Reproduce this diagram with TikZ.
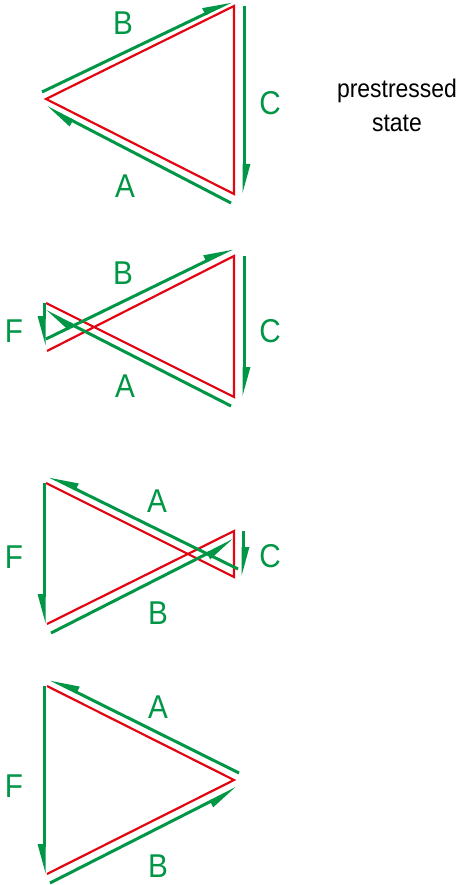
\documentclass[tikz,border=0pt]{standalone}
\usepackage{fontspec}
\setmainfont[FakeStretch=0.9]{Liberation Sans}
\usetikzlibrary{arrows.meta}
\definecolor{barred}{RGB}{226,6,19}
\definecolor{forcegreen}{RGB}{0,150,70}
\tikzset{
  member/.style={draw=barred,line width=2.2pt,line join=miter},
  force/.style={draw=forcegreen,line width=3pt},
  harpl/.style={force,-{Triangle[harpoon,length=24pt,width=12pt]}},
  harpr/.style={force,-{Triangle[harpoon,swap,length=24pt,width=12pt]}},
  lbl/.style={text=forcegreen,font=\fontsize{33}{33}\selectfont,inner sep=0pt},
  note/.style={text=black,font=\fontsize{25.5}{34}\selectfont,align=center,inner sep=0pt}
}
\begin{document}
\begin{tikzpicture}[x=1pt,y=-1pt]
\useasboundingbox (0,0) rectangle (463,885);
% ---------- diagram 1 ----------
\coordinate (r1a) at (46,99);
\coordinate (r1b) at (234,6);
\coordinate (r1c) at (234,194);
\draw[member] (r1a) -- (r1b) -- (r1c) -- cycle;
\coordinate (g1bs) at (42,92);
\coordinate (g1be) at (232,1);
\coordinate (g1as) at (231,203);
\coordinate (g1ae) at (46,107);
\coordinate (g1cs) at (244,6);
\coordinate (g1ce) at (244,194);
\draw[harpl] (g1bs) -- (g1be);
\draw[harpl] (g1as) -- (g1ae);
\draw[harpl] (g1cs) -- (g1ce);
\node[lbl] (l1b) at (123,23) {B};
\node[lbl] (l1a) at (125,186) {A};
\node[lbl] (l1c) at (270,103) {C};
\node[note] (pre) at (397,105) {prestressed\\state};
% ---------- diagram 2 ----------
\coordinate (r2a) at (46,303);
\coordinate (r2b) at (234,397);
\coordinate (r2c) at (234,256);
\coordinate (r2d) at (47,351);
\draw[member] (r2a) -- (r2b) -- (r2c) -- (r2d);
\coordinate (g2bs) at (46,339);
\coordinate (g2be) at (233,248);
\coordinate (g2as) at (231,406);
\coordinate (g2ae) at (45,311);
\coordinate (g2cs) at (244,256);
\coordinate (g2ce) at (244,397);
\coordinate (g2fs) at (44,303);
\coordinate (g2fe) at (44,346);
\draw[harpl] (g2bs) -- (g2be);
\draw[harpl] (g2as) -- (g2ae);
\draw[harpl] (g2cs) -- (g2ce);
\draw[harpr] (g2fs) -- (g2fe);
\node[lbl] (l2b) at (123,273) {B};
\node[lbl] (l2a) at (125,386) {A};
\node[lbl] (l2c) at (270,331) {C};
\node[lbl] (l2f) at (14,331) {F};
% ---------- diagram 3 ----------
\coordinate (r3a) at (46,483);
\coordinate (r3b) at (234,577);
\coordinate (r3c) at (234,531);
\coordinate (r3d) at (47,624);
\draw[member] (r3a) -- (r3b) -- (r3c) -- (r3d);
\coordinate (g3as) at (238,569);
\coordinate (g3ae) at (49,476);
\coordinate (g3bs) at (51,633);
\coordinate (g3be) at (234,540);
\coordinate (g3fs) at (44,483);
\coordinate (g3fe) at (44,624);
\coordinate (g3cs) at (243,531);
\coordinate (g3ce) at (243,577);
\draw[harpr] (g3as) -- (g3ae);
\draw[harpr] (g3bs) -- (g3be);
\draw[harpr] (g3fs) -- (g3fe);
\draw[harpl] (g3cs) -- (g3ce);
\node[lbl] (l3a) at (157,501) {A};
\node[lbl] (l3b) at (158,613) {B};
\node[lbl] (l3c) at (270,556) {C};
\node[lbl] (l3f) at (14,557) {F};
% ---------- diagram 4 ----------
\coordinate (r4a) at (47,686);
\coordinate (r4b) at (234,780);
\coordinate (r4c) at (47,874);
\draw[member] (r4a) -- (r4b) -- (r4c);
\coordinate (g4as) at (239,773);
\coordinate (g4ae) at (50,679);
\coordinate (g4bs) at (50,883);
\coordinate (g4be) at (237,788);
\coordinate (g4fs) at (44,686);
\coordinate (g4fe) at (44,874);
\draw[harpr] (g4as) -- (g4ae);
\draw[harpr] (g4bs) -- (g4be);
\draw[harpr] (g4fs) -- (g4fe);
\node[lbl] (l4a) at (158,707) {A};
\node[lbl] (l4b) at (158,866) {B};
\node[lbl] (l4f) at (14,786) {F};
\end{tikzpicture}
\end{document}
